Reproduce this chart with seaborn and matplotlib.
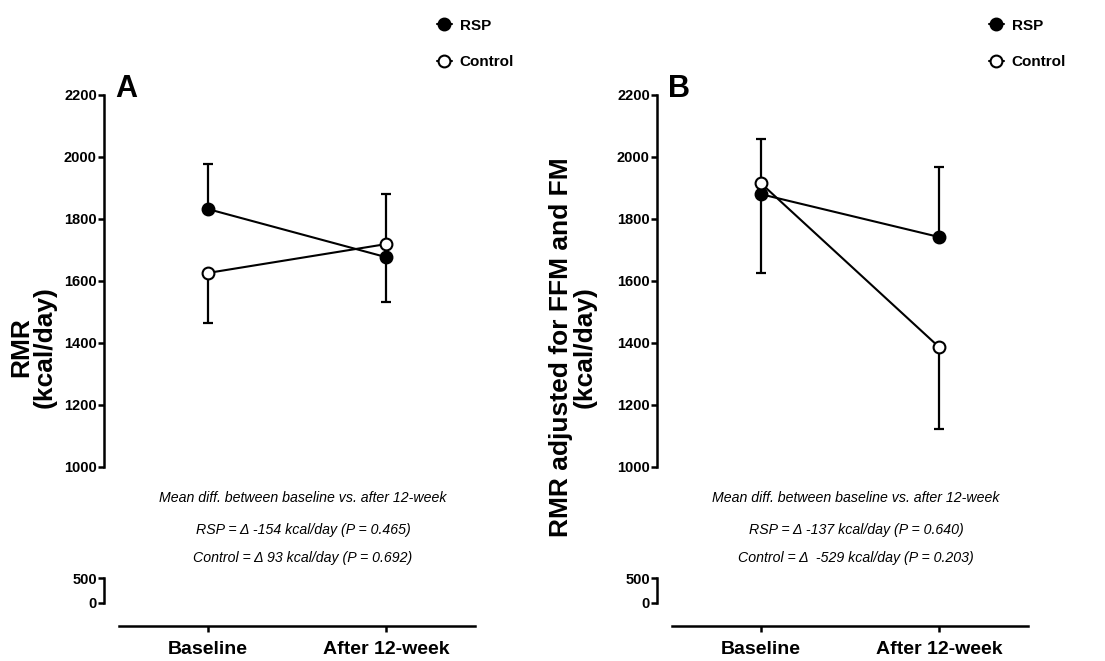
import numpy as np
import pandas as pd
import matplotlib
matplotlib.use("Agg")
import matplotlib.pyplot as plt
import seaborn as sns

# данные
time_points = ["Baseline", "After 12-week"]
x_pos = [0, 1]

# панель A: RMR
rmr_rsp = [1832, 1677]
rmr_rsp_err_lo = [0, 145]
rmr_rsp_err_hi = [145, 0]
rmr_ctrl = [1626, 1719]
rmr_ctrl_err_lo = [161, 0]
rmr_ctrl_err_hi = [0, 162]

# панель B: RMR adjusted for FFM and FM
adj_rsp = [1880, 1742]
adj_rsp_err_lo = [254, 0]
adj_rsp_err_hi = [0, 226]
adj_ctrl = [1915, 1387]
adj_ctrl_err_lo = [0, 264]
adj_ctrl_err_hi = [143, 0]

notes_a = ["Mean diff. between baseline vs. after 12-week",
           "RSP = \u0394 -154 kcal/day (P = 0.465)",
           "Control = \u0394 93 kcal/day (P = 0.692)"]
notes_b = ["Mean diff. between baseline vs. after 12-week",
           "RSP = \u0394 -137 kcal/day (P = 0.640)",
           "Control = \u0394  -529 kcal/day (P = 0.203)"]

sns.set_style("ticks")
FONT = ["Liberation Sans", "DejaVu Sans"]
plt.rcParams["font.family"] = FONT
plt.rcParams["font.weight"] = "bold"
for k in ["text.color", "axes.labelcolor", "xtick.color", "ytick.color",
          "axes.edgecolor"]:
    plt.rcParams[k] = "black"

W, H = 1105, 661
fig = plt.figure(figsize=(W / 100, H / 100), dpi=100)


def fx(px):
    return px / W


def fy(py):
    return 1 - py / H


LW = 1.8


def style_left(ax):
    ax.spines["left"].set_position(("outward", 11))
    ax.spines["left"].set_linewidth(LW)
    ax.tick_params(axis="y", direction="out", length=4, width=LW,
                   labelsize=10.5, pad=1)
    for lab in ax.get_yticklabels():
        lab.set_fontweight("bold")


def panel(left_px, rsp, rsp_lo, rsp_hi, ctrl, ctrl_lo, ctrl_hi,
          letter, ylabel, ylab_x, notes, note_x, leg_x):
    ax = fig.add_axes([fx(left_px), fy(467), 356 / W, 372 / H])
    axb = fig.add_axes([fx(left_px), fy(603), 356 / W, 25 / H])

    # error bars (one-sided, as in the original)
    ax.errorbar(x_pos, rsp, yerr=[rsp_lo, rsp_hi], fmt="none", ecolor="black",
                elinewidth=1.6, capsize=3.8, capthick=1.6, zorder=1)
    ax.errorbar(x_pos, ctrl, yerr=[ctrl_lo, ctrl_hi], fmt="none", ecolor="black",
                elinewidth=1.6, capsize=3.8, capthick=1.6, zorder=1)

    sns.lineplot(x=x_pos, y=rsp, ax=ax, color="black", linewidth=1.5,
                 marker="o", markersize=8.5, markerfacecolor="black",
                 markeredgecolor="black", markeredgewidth=1.5, label="RSP")
    sns.lineplot(x=x_pos, y=ctrl, ax=ax, color="black", linewidth=1.5,
                 marker="o", markersize=8.5, markerfacecolor="white",
                 markeredgecolor="black", markeredgewidth=1.5, label="Control")

    ax.set_xlim(-0.5, 1.5)
    ax.set_ylim(1000, 2200)
    ax.set_yticks([1000, 1200, 1400, 1600, 1800, 2000, 2200])
    ax.set_xticks([])
    ax.set_xlabel("")
    ax.set_ylabel("")
    for s in ["top", "right", "bottom"]:
        ax.spines[s].set_visible(False)
    style_left(ax)
    ax.patch.set_alpha(0)

    ax.legend(loc="upper left", bbox_to_anchor=(fx(leg_x), fy(5)),
              bbox_transform=fig.transFigure, frameon=False,
              handlelength=1.0, handletextpad=0.5, labelspacing=1.45,
              prop={"family": FONT, "weight": "bold", "size": 11})

    # нижний кусок разорванной оси
    axb.set_xlim(-0.5, 1.5)
    axb.set_ylim(0, 500)
    axb.set_yticks([0, 500])
    axb.set_xticks(x_pos)
    axb.set_xticklabels(time_points)
    for s in ["top", "right"]:
        axb.spines[s].set_visible(False)
    style_left(axb)
    axb.spines["bottom"].set_position(("outward", 16.5))
    axb.spines["bottom"].set_linewidth(LW)
    axb.tick_params(axis="x", direction="out", length=4, width=LW,
                    labelsize=14, pad=7)
    for lab in axb.get_xticklabels():
        lab.set_fontweight("bold")
    axb.patch.set_alpha(0)

    fig.text(fx(left_px - 4), fy(97), letter, fontsize=22, fontweight="bold",
             ha="left", va="baseline")
    fig.text(fx(ylab_x), fy(347), ylabel, rotation=90, ha="center", va="center",
             multialignment="center", fontsize=19, fontweight="bold",
             linespacing=1.0)
    for txt, yy in zip(notes, [498, 530, 558]):
        fig.text(fx(note_x), fy(yy), txt, ha="center", va="center",
                 fontsize=10.2, style="italic", fontweight="normal")


panel(119, rmr_rsp, rmr_rsp_err_lo, rmr_rsp_err_hi,
      rmr_ctrl, rmr_ctrl_err_lo, rmr_ctrl_err_hi,
      "A", "RMR\n(kcal/day)", 33, notes_a, 303, 423)
panel(672, adj_rsp, adj_rsp_err_lo, adj_rsp_err_hi,
      adj_ctrl, adj_ctrl_err_lo, adj_ctrl_err_hi,
      "B", "RMR adjusted for FFM and FM\n(kcal/day)", 573, notes_b, 856, 975)

fig.savefig("out.png", dpi=100, facecolor="white")
